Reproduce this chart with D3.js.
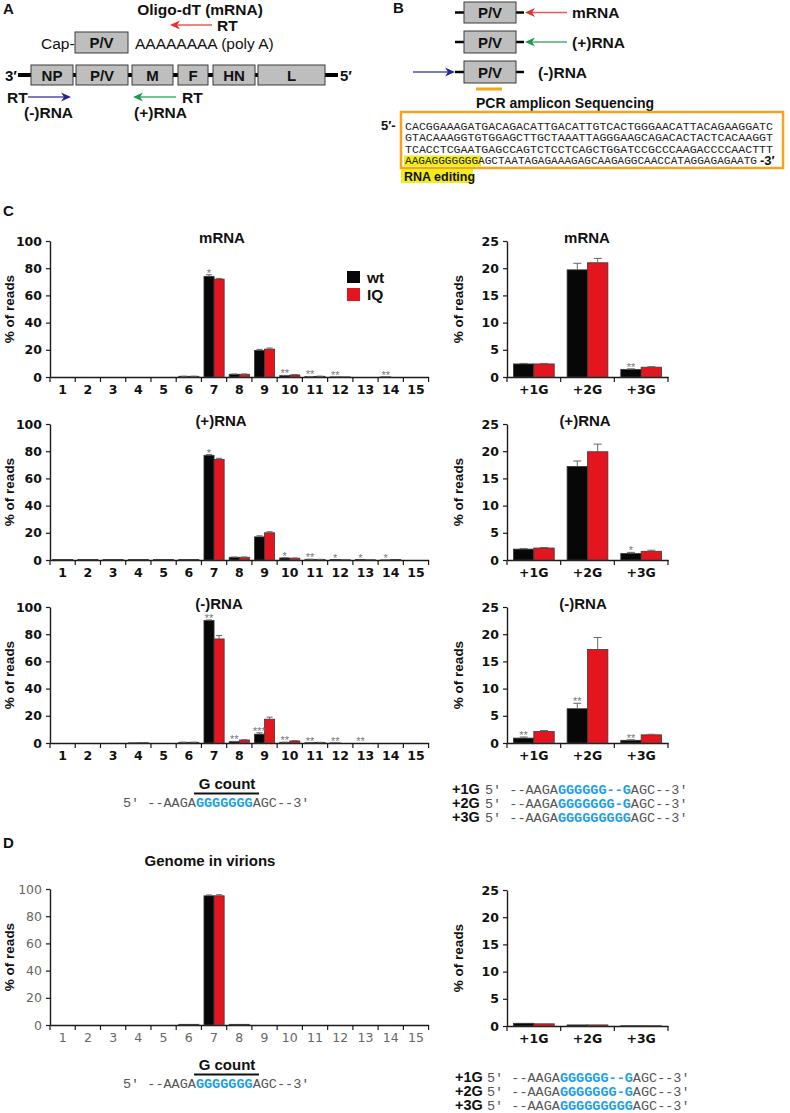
<!DOCTYPE html>
<html>
<head>
<meta charset="utf-8">
<script src="https://cdn.jsdelivr.net/npm/d3@7"></script>
<style>
  body { margin: 0; background: #fff; }
  svg { display: block; font-family: "Liberation Sans", Arial, sans-serif; }
</style>
</head>
<body>
<script>
// ---- data ----
var gCount = ["1","2","3","4","5","6","7","8","9","10","11","12","13","14","15"];
var gIns = ["+1G","+2G","+3G"];
var pctTicks = [0,20,40,60,80,100];
var insTicks = [0,5,10,15,20,25];

var mrnaWt    = [0,0,0,0,0,0.5,74,2,19.5,1,0.3,0.1,0,0.1,0];
var mrnaIQ    = [0,0,0,0,0,0.5,72,2,20.5,1.5,0.5,0.1,0,0,0];
var mrnaWtErr = [0,0,0,0,0,0.1,1.2,0.2,0.8,0.2,0.1,0,0,0,0];
var mrnaIQErr = [0,0,0,0,0,0.1,0.5,0.2,0.8,0.3,0.1,0,0,0,0];
var mrnaStars = ["","","","","","","*","","","**","**","**","","**",""];

var plusWt    = [0.3,0.3,0.3,0.3,0.3,0.3,77,2,17,1.5,0.5,0.3,0.3,0.1,0];
var plusIQ    = [0.3,0.3,0.3,0.3,0.3,0.3,74,2,20,1.3,0.4,0.2,0.2,0.3,0];
var plusWtErr = [0,0,0,0,0,0,0.5,0.2,0.8,0.2,0.1,0,0,0,0];
var plusIQErr = [0,0,0,0,0,0,0.8,0.2,0.8,0.2,0.1,0,0,0,0];
var plusStars = ["","","","","","","*","","","*","**","*","*","*",""];

var minusWt    = [0,0,0,0.1,0,0.5,90,1,6.5,0.5,0.2,0.1,0,0,0];
var minusIQ    = [0,0,0,0.2,0,0.5,76.5,2.2,17.5,1.5,0.4,0,0,0,0];
var minusWtErr = [0,0,0,0,0,0.1,0.5,0.2,1,0.1,0,0,0,0,0];
var minusIQErr = [0,0,0,0,0,0.1,2.5,0.2,1.5,0.3,0.1,0,0,0,0];
var minusStars = ["","","","","","","**","**","***","**","**","**","**","",""];

var virWt    = [0,0,0,0,0,0.5,95,0.5,0,0,0,0,0,0,0];
var virIQ    = [0,0,0,0,0,0.5,95,0.5,0,0,0,0,0,0,0];
var virWtErr = [0,0,0,0,0,0,0.6,0,0,0,0,0,0,0,0];
var virIQErr = [0,0,0,0,0,0,0.8,0,0,0,0,0,0,0,0];
var noStars15 = ["","","","","","","","","","","","","","",""];

var insMrnaWt = [2.4,19.7,1.4], insMrnaIQ = [2.4,21,1.8];
var insMrnaWtErr = [0.1,1.2,0.1], insMrnaIQErr = [0.1,0.8,0.1];
var insMrnaStars = ["","","**"];

var insPlusWt = [2.0,17.2,1.2], insPlusIQ = [2.2,19.9,1.6];
var insPlusWtErr = [0.1,1.0,0.2], insPlusIQErr = [0.1,1.4,0.2];
var insPlusStars = ["","","*"];

var insMinusWt = [0.9,6.3,0.5], insMinusIQ = [2.1,17.2,1.5];
var insMinusWtErr = [0.2,1.0,0.1], insMinusIQErr = [0.2,2.2,0.1];
var insMinusStars = ["**","**","**"];

var insVirWt = [0.5,0.2,0.05], insVirIQ = [0.4,0.2,0.05];
var insVirWtErr = [0,0,0], insVirIQErr = [0,0,0];
var noStars3 = ["","",""];

var seqLines = [
  "CACGGAAAGATGACAGACATTGACATTGTCACTGGGAACATTACAGAAGGATC",
  "GTACAAAGGTGTGGAGCTTGCTAAATTAGGGAAGCAGACACTACTCACAAGGT",
  "TCACCTCGAATGAGCCAGTCTCCTCAGCTGGATCCGCCCAAGACCCCAACTTT",
  "AAGAGGGGGGGAGCTAATAGAGAAAGAGCAAGAGGCAACCATAGGAGAGAATG"
];

var RED = "#e3151f", BLK = "#070707", BLUE = "#1aa0ea";
var MONO = "'Liberation Mono', 'Courier New', monospace";
var NUMF = "'DejaVu Sans', Arial, sans-serif";

var svg = d3.select("body").append("svg").attr("width", 790).attr("height", 1113);

function txt(x, y, s, size, weight, anchor, fill) {
  return svg.append("text").attr("x", x).attr("y", y).text(s)
    .attr("font-size", size).attr("font-weight", weight || "normal")
    .attr("text-anchor", anchor || "start").attr("fill", fill || "#111");
}

function arrow(x1, y, x2, color) {
  var dir = x2 > x1 ? 1 : -1;
  svg.append("line").attr("x1", x1).attr("y1", y).attr("x2", x2 - dir * 6).attr("y2", y)
    .attr("stroke", color).attr("stroke-width", 1.3).attr("opacity", 0.8);
  svg.append("path")
    .attr("d", "M" + x2 + "," + y + " L" + (x2 - dir * 10) + "," + (y - 4.5) + " L" + (x2 - dir * 7) + "," + y + " L" + (x2 - dir * 10) + "," + (y + 4.5) + " Z")
    .attr("fill", color);
}

function box(x0, x1, y0, y1, label) {
  svg.append("rect").attr("x", x0).attr("y", y0).attr("width", x1 - x0).attr("height", y1 - y0)
    .attr("fill", "#bebebe").attr("stroke", "#3a3a3a").attr("stroke-width", 1);
  txt((x0 + x1) / 2, (y0 + y1) / 2 + 5.5, label, 15, "bold", "middle");
}

// ---- panel A ----
txt(3, 14, "A", 15, "bold");
txt(200, 15, "Oligo-dT (mRNA)", 15.5, "bold", "middle");
arrow(212, 25, 170, "#e8302a");
txt(217, 31, "RT", 15.5, "bold");
txt(41, 49, "Cap-", 15.5);
box(75, 128, 32, 53, "P/V");
txt(135, 49, "AAAAAAAA (poly A)", 15.5);

svg.append("line").attr("x1", 18).attr("x2", 338).attr("y1", 75).attr("y2", 75)
  .attr("stroke", "#000").attr("stroke-width", 4);
txt(5, 81, "3\u2032", 15, "bold");
txt(340, 81, "5\u2032", 15, "bold");
[[31,73,"NP"],[76,128,"P/V"],[132,173,"M"],[178,208,"F"],[213,255,"HN"],[258,325,"L"]]
  .forEach(function(b) { box(b[0], b[1], 65, 85, b[2]); });
txt(7, 103, "RT", 15.5, "bold");
arrow(28, 97, 71, "#26268f");
txt(24, 118, "(-)RNA", 15.5, "bold");
arrow(176, 97, 133, "#1a9a4c");
txt(182, 103, "RT", 15.5, "bold");
txt(134, 118, "(+)RNA", 15.5, "bold");

// ---- panel B ----
txt(393, 13, "B", 15, "bold");
[[2,23,"#e8302a","mRNA",572],[31,53,"#1a9a4c","(+)RNA",572],[61,83,"#26268f","(-)RNA",538]].forEach(function(r, i) {
  var cy = (r[0] + r[1]) / 2;
  svg.append("line").attr("x1", 455).attr("x2", 464).attr("y1", cy).attr("y2", cy).attr("stroke", "#000").attr("stroke-width", 2.5);
  svg.append("line").attr("x1", 516).attr("x2", 524).attr("y1", cy).attr("y2", cy).attr("stroke", "#000").attr("stroke-width", 2.5);
  box(464, 516, r[0], r[1], "P/V");
  if (i < 2) arrow(567, cy, 525, r[2]); else arrow(413, cy, 455, r[2]);
  txt(r[4], cy + 5.5, r[3], 15.5, "bold");
});
svg.append("line").attr("x1", 476).attr("x2", 502).attr("y1", 89).attr("y2", 89)
  .attr("stroke", "#f5a41f").attr("stroke-width", 3);
txt(476, 108, "PCR amplicon Sequencing", 14, "bold");

svg.append("rect").attr("x", 401).attr("y", 112).attr("width", 382).attr("height", 56)
  .attr("fill", "none").attr("stroke", "#f5a41f").attr("stroke-width", 2.5);
svg.append("rect").attr("x", 404).attr("y", 155.5).attr("width", 77).attr("height", 11).attr("fill", "#f3ec16");
txt(381, 130, "5\u2032-", 13, "bold");
seqLines.forEach(function(s, i) {
  svg.append("text").attr("x", 405).attr("y", 129.5 + i * 11.5).text(s)
    .attr("font-family", MONO).attr("font-size", 10.5).attr("fill", "#222")
    .attr("textLength", i < 3 ? 368 : 352).attr("lengthAdjust", "spacingAndGlyphs");
});
txt(760, 165, "-3\u2032", 13, "bold");
svg.append("rect").attr("x", 401).attr("y", 169).attr("width", 72).attr("height", 14).attr("fill", "#f3ec16");
txt(404, 180.5, "RNA editing", 12.5, "bold");

// ---- charts ----
function panel(o) {
  var x = d3.scaleBand().domain(o.cats).range([o.x0, o.x1]);
  var y = d3.scaleLinear().domain([0, o.max]).range([o.base, o.base - 136]);
  var g = svg.append("g");
  var ya = g.append("g").attr("transform", "translate(" + o.x0 + ",0)")
    .call(d3.axisLeft(y).tickValues(o.ticks).tickSize(4).tickSizeOuter(0).tickPadding(4));
  var xa = g.append("g").attr("transform", "translate(0," + o.base + ")")
    .call(d3.axisBottom(x).tickSize(0).tickSizeOuter(0).tickPadding(8));
  [ya, xa].forEach(function(a) {
    a.select(".domain").attr("stroke", "#1a1a1a").attr("stroke-width", 1.4);
    a.selectAll(".tick line").attr("stroke", "#1a1a1a").attr("stroke-width", 1.2);
    a.selectAll("text").attr("font-family", NUMF).attr("font-size", 12.5)
      .attr("font-weight", o.tickWeight).attr("fill", o.tickColor);
  });
  g.selectAll(null).data(o.cats.concat(["end"])).enter().append("line")
    .attr("x1", function(d) { return d === "end" ? o.x1 : x(d); })
    .attr("x2", function(d) { return d === "end" ? o.x1 : x(d); })
    .attr("y1", o.base).attr("y2", o.base + 5).attr("stroke", "#1a1a1a").attr("stroke-width", 1.2);

  var inset = x.bandwidth() * o.inset;
  var bw = (x.bandwidth() - 2 * inset) / 2;
  var series = [{v: o.wt, e: o.ewt, c: BLK}, {v: o.iq, e: o.eiq, c: RED}];
  series.forEach(function(s, k) {
    g.selectAll(null).data(o.cats).enter().append("rect")
      .attr("x", function(d) { return x(d) + inset + k * bw; })
      .attr("y", function(d, i) { return y(s.v[i]); })
      .attr("width", bw)
      .attr("height", function(d, i) { return o.base - y(s.v[i]); })
      .attr("fill", s.c).attr("stroke", "#3a3a3a").attr("stroke-width", 0.8);
    var eb = g.selectAll(null).data(o.cats.filter(function(d, i) { return s.e[i] > 0; })).enter().append("g");
    eb.append("line")
      .attr("x1", function(d) { return x(d) + inset + (k + 0.5) * bw; })
      .attr("x2", function(d) { return x(d) + inset + (k + 0.5) * bw; })
      .attr("y1", function(d) { var i = o.cats.indexOf(d); return y(s.v[i]); })
      .attr("y2", function(d) { var i = o.cats.indexOf(d); return y(s.v[i] + s.e[i]); })
      .attr("stroke", "#666").attr("stroke-width", 1);
    eb.append("line")
      .attr("x1", function(d) { return x(d) + inset + (k + 0.5) * bw - o.cap; })
      .attr("x2", function(d) { return x(d) + inset + (k + 0.5) * bw + o.cap; })
      .attr("y1", function(d) { var i = o.cats.indexOf(d); return y(s.v[i] + s.e[i]); })
      .attr("y2", function(d) { var i = o.cats.indexOf(d); return y(s.v[i] + s.e[i]); })
      .attr("stroke", "#666").attr("stroke-width", 1);
  });
  g.selectAll(null).data(o.cats).enter().append("text")
    .attr("x", function(d) { return x(d) + inset + 0.5 * bw; })
    .attr("y", function(d, i) { return y(o.wt[i] + o.ewt[i]) + 2; })
    .attr("text-anchor", "middle").attr("font-size", 11).attr("fill", "#777")
    .text(function(d, i) { return o.stars[i]; });

  if (o.title) txt(o.titleX, o.base - 136 + 2, o.title, 15, "bold", "middle");
  g.append("text").attr("transform", "translate(" + o.ylabX + "," + (o.base - 68) + ") rotate(-90)")
    .attr("text-anchor", "middle").attr("font-size", 13.5).attr("font-weight", "bold").attr("fill", "#111")
    .text("% of reads");
}

var leftCfg = {cats: gCount, x0: 50, x1: 428.6, max: 100, ticks: pctTicks, inset: 0.1, cap: 3, ylabX: 14, tickColor: "#111", tickWeight: "bold"};
var rightCfg = {cats: gIns, x0: 507, x1: 668, max: 25, ticks: insTicks, inset: 0.12, cap: 4, ylabX: 463, tickColor: "#111", tickWeight: "bold"};
function cfg(base, extra) { return Object.assign({}, base, extra); }

txt(3, 216, "C", 15, "bold");
panel(cfg(leftCfg, {base: 377, wt: mrnaWt, iq: mrnaIQ, ewt: mrnaWtErr, eiq: mrnaIQErr, stars: mrnaStars, title: "mRNA", titleX: 222}));
panel(cfg(leftCfg, {base: 560, wt: plusWt, iq: plusIQ, ewt: plusWtErr, eiq: plusIQErr, stars: plusStars, title: "(+)RNA", titleX: 221}));
panel(cfg(leftCfg, {base: 743, wt: minusWt, iq: minusIQ, ewt: minusWtErr, eiq: minusIQErr, stars: minusStars, title: "(-)RNA", titleX: 219}));
panel(cfg(rightCfg, {base: 377, wt: insMrnaWt, iq: insMrnaIQ, ewt: insMrnaWtErr, eiq: insMrnaIQErr, stars: insMrnaStars, title: "mRNA", titleX: 587}));
panel(cfg(rightCfg, {base: 560, wt: insPlusWt, iq: insPlusIQ, ewt: insPlusWtErr, eiq: insPlusIQErr, stars: insPlusStars, title: "(+)RNA", titleX: 585}));
panel(cfg(rightCfg, {base: 743, wt: insMinusWt, iq: insMinusIQ, ewt: insMinusWtErr, eiq: insMinusIQErr, stars: insMinusStars, title: "(-)RNA", titleX: 583}));

// legend
svg.append("rect").attr("x", 347).attr("y", 271).attr("width", 13).attr("height", 12).attr("fill", BLK);
svg.append("rect").attr("x", 347).attr("y", 288).attr("width", 13).attr("height", 13).attr("fill", RED);
txt(367, 283, "wt", 15.5, "bold");
txt(367, 300, "IQ", 15.5, "bold");

txt(3, 848, "D", 15, "bold");
txt(210, 866, "Genome in virions", 15, "bold", "middle");
panel(cfg(leftCfg, {base: 1025, wt: virWt, iq: virIQ, ewt: virWtErr, eiq: virIQErr, stars: noStars15, tickColor: "#666", tickWeight: "normal"}));
panel(cfg(rightCfg, {base: 1026, wt: insVirWt, iq: insVirIQ, ewt: insVirWtErr, eiq: insVirIQErr, stars: noStars3}));

// ---- sequence annotations ----
function seq(x, y, pre, blue, post) {
  var t = svg.append("text").attr("x", x).attr("y", y).attr("font-family", MONO).attr("font-size", 13.5).attr("fill", "#555");
  t.append("tspan").text(pre);
  t.append("tspan").text(blue).attr("fill", BLUE).attr("font-weight", "bold");
  t.append("tspan").text(post);
}
function gcount(yLab) {
  txt(227, yLab, "G count", 15, "bold", "middle");
  svg.append("line").attr("x1", 194).attr("x2", 259).attr("y1", yLab + 4.5).attr("y2", yLab + 4.5)
    .attr("stroke", "#111").attr("stroke-width", 2);
  seq(123, yLab + 18, "5\u2032 --AAGA", "GGGGGGG", "AGC--3\u2032");
}
function insSeqs(xLab, xSeq, y0) {
  [["+1G", "GGGGGG--G"], ["+2G", "GGGGGGG-G"], ["+3G", "GGGGGGGGG"]].forEach(function(r, i) {
    txt(xLab, y0 + i * 14, r[0], 14.5, "bold");
    seq(xSeq, y0 + i * 14, "5\u2032 --AAGA", r[1], "AGC--3\u2032");
  });
}
gcount(789);
gcount(1070);
insSeqs(452, 485, 794);
insSeqs(455, 487, 1082);
</script>
</body>
</html>
